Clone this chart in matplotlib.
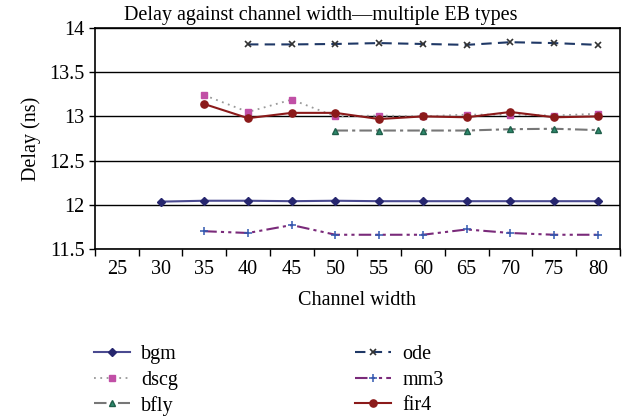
import numpy as np
import matplotlib
matplotlib.use('Agg')
import matplotlib.pyplot as plt

plt.rcParams['font.family'] = ['Liberation Serif', 'DejaVu Serif']

#===================================================================================
#                         data
#===================================================================================
widths = [25, 30, 35, 40, 45, 50, 55, 60, 65, 70, 75, 80]
nan = np.nan

bgm  = [nan, 12.035, 12.045, 12.045, 12.04, 12.045, 12.04, 12.04, 12.04, 12.04, 12.04, 12.04]
dscg = [nan, nan, 13.24, 13.05, 13.19, 13.00, 13.01, 13.00, 13.02, 13.02, 13.01, 13.03]
bfly = [nan, nan, nan, nan, nan, 12.84, 12.84, 12.84, 12.84, 12.855, 12.86, 12.845]
ode  = [nan, nan, nan, 13.815, 13.815, 13.82, 13.83, 13.82, 13.81, 13.84, 13.83, 13.81]
mm3  = [nan, nan, 11.70, 11.68, 11.77, 11.66, 11.66, 11.66, 11.72, 11.68, 11.66, 11.66]
fir4 = [nan, nan, 13.14, 12.98, 13.04, 13.04, 12.97, 13.00, 12.99, 13.05, 12.99, 13.00]

#===================================================================================
#                         plot
#===================================================================================
fig = plt.figure(figsize=(6.33, 4.19), dpi=100)
ax = fig.add_axes([0.150, 0.406, 0.829, 0.527])

x = np.arange(len(widths))

ax.plot(x, bgm, color='#4a4a90', lw=1.5, marker='D', ms=3.8, mfc='#26266e', mec='#26266e', label='bgm', zorder=4)
ax.plot(x, dscg, color='#999999', lw=1.3, ls=(0, (1, 2.5)), marker='s', ms=5, mfc='#c14fa6', mec='#c14fa6', label='dscg', zorder=4)
ax.plot(x, bfly, color='#777777', lw=1.5, ls=(0, (6, 2, 1.5, 2)), marker='^', ms=4.5, mfc='#2e8b6e', mec='#1f5f4a', label='bfly', zorder=4)
ax.plot(x, ode, color='#1f3866', lw=1.5, ls=(0, (5, 3)), marker='x', ms=4.5, mew=1.2, mec='#333333', label='ode', zorder=4)
ax.plot(x, mm3, color='#7a2a7a', lw=1.5, ls=(0, (6, 2, 1.5, 2, 1.5, 2)), marker='+', ms=6, mew=1.1, mec='#3358b0', label='mm3', zorder=4)
ax.plot(x, fir4, color='#8b1a1a', lw=1.5, marker='o', ms=5.2, mfc='#8b1a1a', mec='#8b1a1a', label='fir4', zorder=5)

ax.set_xlim(-0.5, len(widths) - 0.5)
ax.set_ylim(11.5, 14)
ax.set_yticks([11.5, 12, 12.5, 13, 13.5, 14])
ax.set_yticklabels(['11.5', '12', '12.5', '13', '13.5', '14'])
ax.set_xticks(x)
ax.set_xticklabels([str(w) for w in widths])
ax.set_xticks(np.arange(len(widths) + 1) - 0.5, minor=True)
ax.tick_params(axis='x', which='major', length=0, labelsize=14.5, pad=8)
ax.tick_params(axis='x', which='minor', length=5, direction='out', width=1)
ax.tick_params(axis='y', labelsize=14.5, length=4, width=1)
ax.grid(axis='y', color='black', lw=1)
ax.set_axisbelow(True)
for s in ax.spines.values():
    s.set_linewidth(1.2)

ax.set_title('Delay against channel width\u2014multiple EB types', fontsize=14.5, pad=6, x=0.43)
ax.set_xlabel('Channel width', fontsize=14.5, labelpad=9)
ax.set_ylabel('Delay (ns)', fontsize=14.5, labelpad=6)

fig.legend(loc='upper left', bbox_to_anchor=(0.135, 0.195), ncol=2, frameon=False,
           fontsize=14.5, handlelength=1.8, handletextpad=0.55, columnspacing=8.8,
           labelspacing=0.3, borderaxespad=0)

fig.savefig('out.png', dpi=100)
